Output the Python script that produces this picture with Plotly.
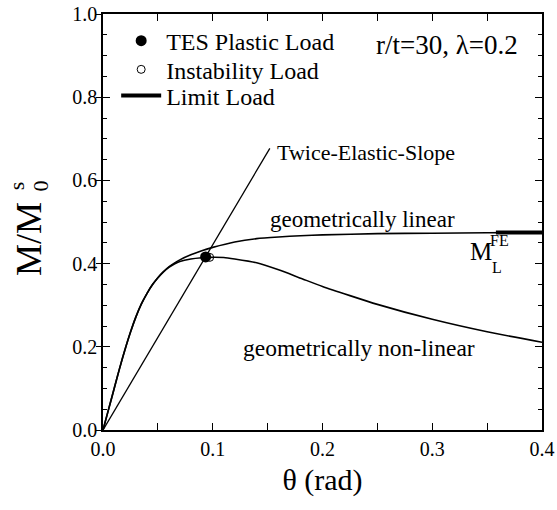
import plotly.graph_objects as go

# Moment-rotation response for r/t = 30, lambda = 0.2
theta_lin = [0, 0.005, 0.01, 0.015, 0.02, 0.025, 0.03, 0.035, 0.04, 0.045, 0.05,
             0.055, 0.06, 0.065, 0.07, 0.08, 0.09, 0.1, 0.12, 0.14, 0.16, 0.18,
             0.2, 0.25, 0.3, 0.35, 0.4]
M_lin = [0, 0.049, 0.098, 0.147, 0.193, 0.235, 0.272, 0.303, 0.328, 0.349, 0.366,
         0.380, 0.392, 0.401, 0.409, 0.421, 0.431, 0.439, 0.452, 0.460, 0.464, 0.467,
         0.469, 0.472, 0.473, 0.474, 0.475]

theta_nl = [0, 0.005, 0.01, 0.015, 0.02, 0.025, 0.03, 0.035, 0.04, 0.045, 0.05,
            0.055, 0.06, 0.065, 0.07, 0.08, 0.09, 0.097, 0.11, 0.12, 0.14, 0.16,
            0.18, 0.2, 0.225, 0.25, 0.3, 0.35, 0.4]
M_nl = [0, 0.049, 0.098, 0.147, 0.193, 0.235, 0.272, 0.303, 0.328, 0.349, 0.366,
        0.380, 0.391, 0.399, 0.405, 0.411, 0.414, 0.415, 0.4145, 0.411, 0.402, 0.385,
        0.365, 0.345, 0.323, 0.302, 0.266, 0.236, 0.211]

# Twice-elastic-slope construction line
tes_theta = [0, 0.152]
tes_M = [0, 0.677]

# Characteristic loads
tes_load_theta = [0.0935]
tes_load_M = [0.416]
inst_load_theta = [0.0972]
inst_load_M = [0.415]
limit_theta = [0.358, 0.4]
limit_M = [0.475, 0.475]

x_ticks = [0.0, 0.1, 0.2, 0.3, 0.4]
x_tick_text = ["0.0", "0.1", "0.2", "0.3", "0.4"]
y_ticks = [0.0, 0.2, 0.4, 0.6, 0.8, 1.0]
y_tick_text = ["0.0", "0.2", "0.4", "0.6", "0.8", "1.0"]

FONT = "Liberation Serif"

fig = go.Figure()
fig.add_trace(go.Scatter(x=theta_lin, y=M_lin, mode="lines", showlegend=False,
                         line=dict(color="black", width=1.6, shape="spline", smoothing=0.6)))
fig.add_trace(go.Scatter(x=theta_nl, y=M_nl, mode="lines", showlegend=False,
                         line=dict(color="black", width=1.6, shape="spline", smoothing=0.6)))
fig.add_trace(go.Scatter(x=tes_theta, y=tes_M, mode="lines", showlegend=False,
                         line=dict(color="black", width=1.3)))
fig.add_trace(go.Scatter(x=limit_theta, y=limit_M, mode="lines", name="Limit Load",
                         legend="legend3", line=dict(color="black", width=4)))
fig.add_trace(go.Scatter(x=inst_load_theta, y=inst_load_M, mode="markers", name="Instability Load",
                         legend="legend2",
                         marker=dict(symbol="circle-open", size=8, color="black",
                                     line=dict(width=1, color="black"))))
fig.add_trace(go.Scatter(x=tes_load_theta, y=tes_load_M, mode="markers", name="TES Plastic Load",
                         legend="legend",
                         marker=dict(symbol="circle", size=11, color="black")))
# empty trace so the outer tick marks axis is rendered
fig.add_trace(go.Scatter(x=[None], y=[None], yaxis="y2", showlegend=False, hoverinfo="skip"))

axis_common = dict(showline=True, linecolor="black", linewidth=1.5, mirror="allticks",
                   ticks="inside", tickcolor="black", tickwidth=1.2, ticklen=7,
                   showgrid=False, zeroline=False, automargin=False,
                   tickfont=dict(family=FONT, size=20, color="black"))


def legend_box(y):
    return dict(x=0.03, y=y, xanchor="left", yanchor="middle", bgcolor="rgba(0,0,0,0)",
                itemwidth=40, font=dict(family=FONT, size=24, color="black"))


fig.update_layout(
    width=557, height=510,
    margin=dict(l=103, r=15, t=14, b=80),
    paper_bgcolor="white", plot_bgcolor="white",
    font=dict(family=FONT, color="black"),
    xaxis=dict(range=[0, 0.4], tickvals=x_ticks, ticktext=x_tick_text,
               minor=dict(dtick=0.05, ticks="inside", ticklen=4, tickcolor="black", tickwidth=1.2),
               title=dict(text="θ (rad)", font=dict(family=FONT, size=30), standoff=10),
               **axis_common),
    yaxis=dict(range=[0, 1.0], tickvals=y_ticks, ticktext=y_tick_text,
               minor=dict(dtick=0.05, ticks="inside", ticklen=4, tickcolor="black", tickwidth=1.2),
               **axis_common),
    yaxis2=dict(range=[0, 1.0], overlaying="y", side="left", tickvals=y_ticks,
                ticks="outside", ticklen=6, tickcolor="black", tickwidth=1.2, automargin=False,
                showticklabels=False, showline=False, showgrid=False, zeroline=False),
    legend=legend_box(0.935),
    legend2=legend_box(0.866),
    legend3=legend_box(0.803),
    showlegend=True,
)

ann = [
    dict(text="r/t=30, λ=0.2", x=0.313, y=0.925, size=27, xanchor="center"),
    dict(text="Twice-Elastic-Slope", x=0.1567, y=0.666, size=22, xanchor="left"),
    dict(text="geometrically linear", x=0.150, y=0.507, size=23, xanchor="left"),
    dict(text="geometrically non-linear", x=0.1257, y=0.197, size=23.5, xanchor="left"),
    dict(text="M", x=0.3440, y=0.428, size=25, xanchor="center"),
    dict(text="FE", x=0.3610, y=0.456, size=16, xanchor="center"),
    dict(text="L", x=0.3590, y=0.390, size=16, xanchor="center"),
]
for a in ann:
    fig.add_annotation(text=a["text"], x=a["x"], y=a["y"], xref="x", yref="y",
                       xanchor=a["xanchor"], yanchor="middle", showarrow=False,
                       font=dict(family=FONT, size=a["size"], color="black"))

# y-axis title with stacked superscript / subscript
fig.add_annotation(text="M/M", xref="paper", yref="paper", x=-0.17, y=0.46,
                   textangle=-90, showarrow=False, xanchor="center", yanchor="middle",
                   font=dict(family=FONT, size=36, color="black"))
fig.add_annotation(text="s", xref="paper", yref="paper", x=-0.197, y=0.587,
                   textangle=-90, showarrow=False, xanchor="center", yanchor="middle",
                   font=dict(family=FONT, size=22, color="black"))
fig.add_annotation(text="0", xref="paper", yref="paper", x=-0.142, y=0.587,
                   textangle=-90, showarrow=False, xanchor="center", yanchor="middle",
                   font=dict(family=FONT, size=22, color="black"))

fig.write_html("out.html")
